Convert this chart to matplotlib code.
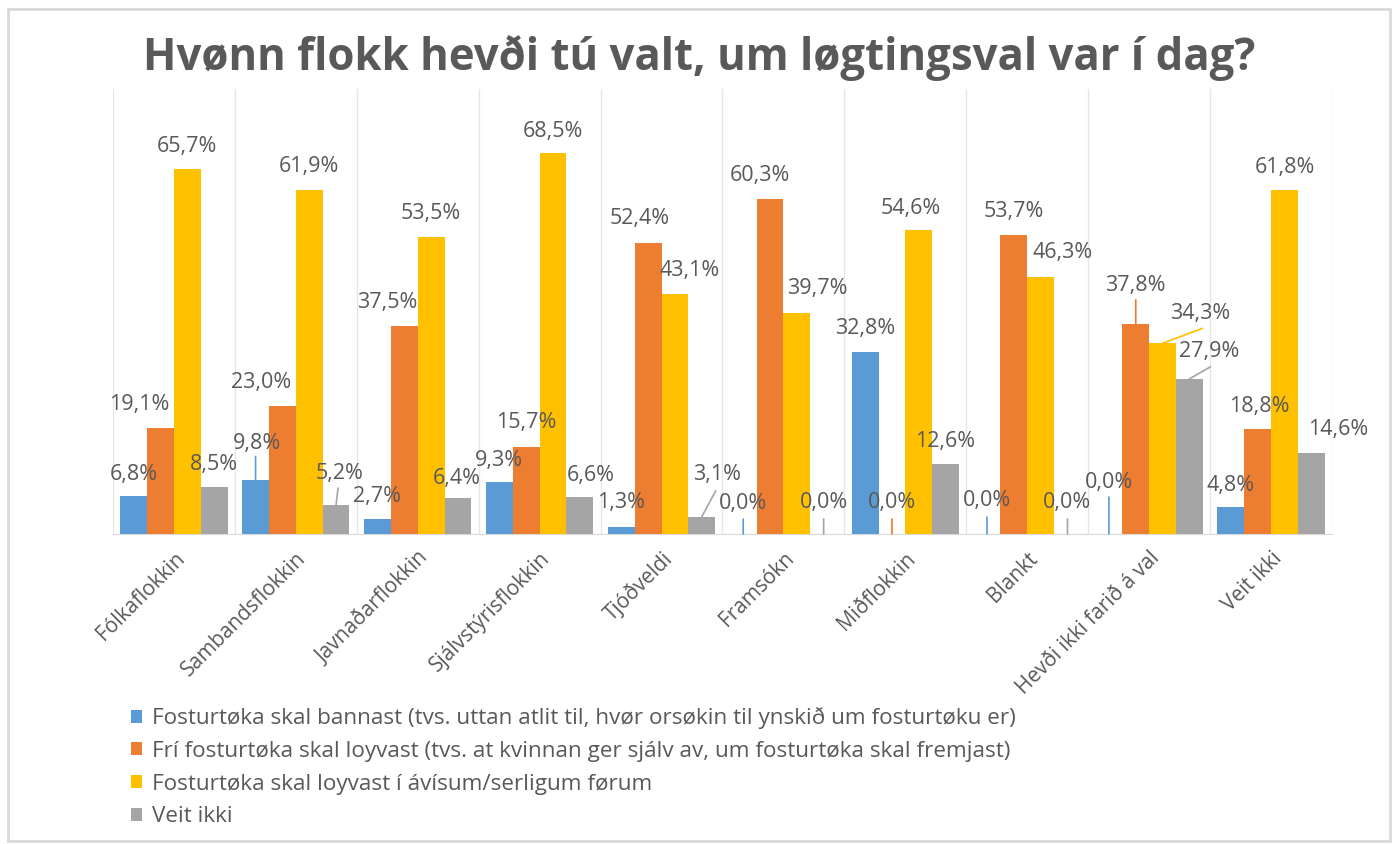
import numpy as np
import matplotlib
matplotlib.use('Agg')
import matplotlib.pyplot as plt
from matplotlib.patches import Rectangle

plt.rcParams['font.family'] = ['Open Sans', 'DejaVu Sans']

title = 'Hvønn flokk hevði tú valt, um løgtingsval var í dag?'
categories = ['Fólkaflokkin', 'Sambandsflokkin', 'Javnaðarflokkin', 'Sjálvstýrisflokkin',
              'Tjóðveldi', 'Framsókn', 'Miðflokkin', 'Blankt', 'Hevði ikki farið á val', 'Veit ikki']
series_names = [
    'Fosturtøka skal bannast (tvs. uttan atlit til, hvør orsøkin til ynskið um fosturtøku er)',
    'Frí fosturtøka skal loyvast (tvs. at kvinnan ger sjálv av, um fosturtøka skal fremjast)',
    'Fosturtøka skal loyvast í ávísum/serligum førum',
    'Veit ikki',
]
bannast = [6.8, 9.8, 2.7, 9.3, 1.3, 0.0, 32.8, 0.0, 0.0, 4.8]
fri = [19.1, 23.0, 37.5, 15.7, 52.4, 60.3, 0.0, 53.7, 37.8, 18.8]
avisum = [65.7, 61.9, 53.5, 68.5, 43.1, 39.7, 54.6, 46.3, 34.3, 61.8]
veit_ikki = [8.5, 5.2, 6.4, 6.6, 3.1, 0.0, 12.6, 0.0, 27.9, 14.6]
values = [bannast, fri, avisum, veit_ikki]

colors = ['#5B9BD5', '#ED7D31', '#FFC000', '#A5A5A5']
text_color = '#595959'

# data label offsets in pixels (dx, up) from the bar top, per category and series
label_offsets = [
    [(0, 22), (-21, 23), (0, 22), (0, 22)],
    [(1, 36), (-21, 24), (0, 23), (4, 32)],
    [(0, 22), (-17, 23), (0, 23), (-1, 20)],
    [(0, 22), (0, 24), (0, 22), (11, 22)],
    [(0, 24), (-8, 24), (15, 24), (15, 42)],
    [(0, 30), (-10, 23), (20, 25), (0, 31)],
    [(0, 23), (0, 31), (-8, 22), (0, 22)],
    [(0, 33), (0, 24), (22, 24), (0, 31)],
    [(0, 51), (0, 38), (38, 30), (20, 27)],
    [(0, 22), (2, 23), (0, 23), (27, 23)],
]
# leader line end points in pixels (dx, up), None where no leader line
leaders = [
    [None, None, None, None],
    [(0, 23), None, None, (2, 17)],
    [None, None, None, None],
    [None, None, None, None],
    [None, None, None, (14, 26)],
    [(0, 15), None, None, (0, 15)],
    [None, (0, 15), None, None],
    [(0, 17), None, None, (0, 15)],
    [(0, 37), (0, 24), (40, 15), (21, 12)],
    [None, None, None, None],
]

fig = plt.figure(figsize=(13.98, 8.44), dpi=100)
fig.patches.append(Rectangle((0.006, 0.004), 0.988, 0.985, transform=fig.transFigure,
                             fill=False, edgecolor='#d9d9d9', linewidth=2))
ax = fig.add_axes([0.0808, 0.3673, 0.872, 0.527])

n = len(categories)
x = np.arange(n)
w = 0.22
for j, vals in enumerate(values):
    pos = x + (j - 1.5) * w
    ax.bar(pos, vals, width=w, color=colors[j], label=series_names[j], zorder=3)
    for i, v in enumerate(vals):
        dx, up = label_offsets[i][j]
        lbl = f'{v:.1f}'.replace('.', ',') + '%'
        ax.annotate(lbl, xy=(pos[i], v), xytext=(dx, up), textcoords='offset pixels',
                    ha='center', va='center', fontsize=15.5, color=text_color, zorder=4)
        if leaders[i][j] is not None:
            ax.annotate('', xy=(pos[i], v), xytext=leaders[i][j], textcoords='offset pixels',
                        arrowprops=dict(arrowstyle='-', color=colors[j], lw=1.2,
                                        shrinkA=0, shrinkB=0), zorder=4)

ax.set_xlim(-0.5, n - 0.5)
ax.set_ylim(0, 80)
ax.set_yticks([])
ax.set_xticks(x)
ax.set_xticklabels(categories, rotation=45, ha='right', rotation_mode='anchor',
                   fontsize=15, color=text_color)
ax.tick_params(axis='x', length=0, pad=10)
ax.set_xticks(np.arange(n + 1) - 0.5, minor=True)
ax.tick_params(axis='x', which='minor', length=0)
ax.grid(True, which='minor', axis='x', color='#e6e6e6', linewidth=1, zorder=0)
for s in ['left', 'right', 'top']:
    ax.spines[s].set_visible(False)
ax.spines['bottom'].set_color('#d9d9d9')

fig.text(0.5, 0.931, title, ha='center', va='center', fontsize=31.5, fontweight='bold',
         color=text_color)

fig.legend(loc='upper left', bbox_to_anchor=(0.0935, 0.162), ncol=1, frameon=False,
           fontsize=16.2, handlelength=0.5, handleheight=0.5, handletextpad=0.45,
           labelspacing=0.52, labelcolor=text_color, borderpad=0, borderaxespad=0)

fig.savefig('out.png', dpi=100)
